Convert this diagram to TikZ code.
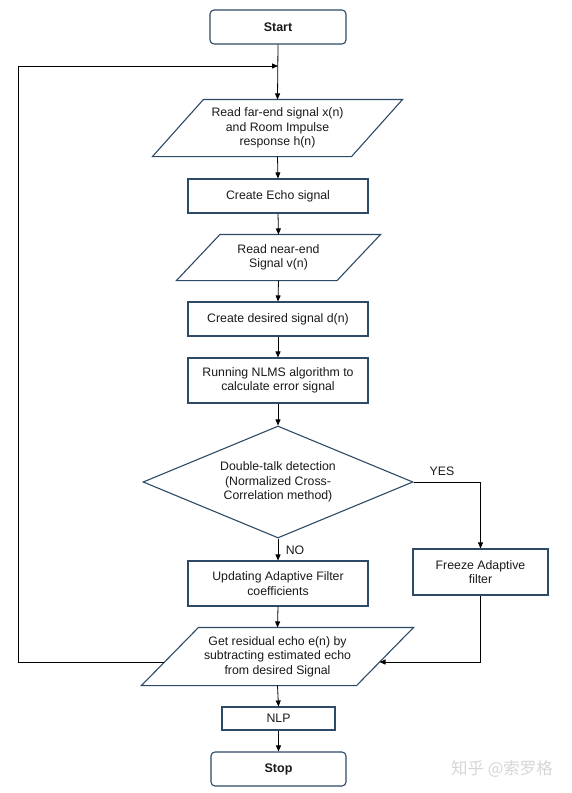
\documentclass[tikz,border=0pt]{standalone}
\usepackage{fontspec}
\setmainfont{Liberation Sans}
\newfontfamily\cjkfont{Noto Sans CJK SC}
\usetikzlibrary{shapes.geometric,arrows.meta,calc}
\definecolor{boxline}{HTML}{2E4A66}
\definecolor{txt}{HTML}{1A1A1A}
\tikzset{
  base/.style={draw=boxline, line width=1.1pt, inner sep=0pt, align=center,
    text=txt, font=\fontsize{12.3}{14.5}\selectfont},
  procbox/.style={base, rectangle},
  termbox/.style={base, rectangle, rounded corners=4pt, font=\fontsize{12.5}{14.5}\selectfont\bfseries},
  iobox/.style={base, rectangle, draw=none,
    append after command={\pgfextra{\draw[draw=boxline, line width=1.1pt]
      ($(\tikzlastnode.north west)+(#1/2,0)$) -- ($(\tikzlastnode.north east)+(#1/2,0)$)
      -- ($(\tikzlastnode.south east)+(-#1/2,0)$) -- ($(\tikzlastnode.south west)+(-#1/2,0)$)
      -- cycle;}}},
  decbox/.style={base, diamond},
  conn/.style={draw=black, line width=0.8pt, -{Triangle[length=6pt,width=5pt]}},
  lbl/.style={text=txt, font=\fontsize{12.3}{14.5}\selectfont, inner sep=0pt}
}
\begin{document}
\begin{tikzpicture}[x=1pt,y=-1pt]
\useasboundingbox[fill=white] (0,0) rectangle (572,793);

\node[termbox, minimum width=136pt, minimum height=34pt] (start) at (278,27) {Start};
\node[iobox=51, minimum width=198pt, minimum height=56pt] (rf) at (277.5,128)
  {Read far-end signal x(n)\\and Room Impulse\\response h(n)};
\node[procbox, minimum width=180pt, minimum height=34pt] (echo) at (278,196) {Create Echo signal};
\node[iobox=43.5, minimum width=159.5pt, minimum height=45pt] (rn) at (278.5,257.5)
  {Read near-end\\Signal v(n)};
\node[procbox, minimum width=180pt, minimum height=34pt] (des) at (278,319) {Create desired signal d(n)};
\node[procbox, minimum width=180pt, minimum height=45pt] (nlms) at (278,380.5)
  {Running NLMS algorithm to\\calculate error signal};
\node[decbox, minimum width=270pt, minimum height=112pt, aspect=2.41] (dt) at (278,482)
  {Double-talk detection\\(Normalized Cross-\\Correlation method)};
\node[procbox, minimum width=180pt, minimum height=45pt] (upd) at (278,583.5)
  {Updating Adaptive Filter\\coefficients};
\node[procbox, minimum width=135pt, minimum height=46pt] (fr) at (480.5,572)
  {Freeze Adaptive\\filter};
\node[iobox=57, minimum width=214pt, minimum height=57pt] (gr) at (277.5,656.5)
  {Get residual echo e(n) by\\subtracting estimated echo\\from desired Signal};
\node[procbox, minimum width=113pt, minimum height=23pt] (nlp) at (278.5,718.5) {NLP};
\node[termbox, minimum width=135pt, minimum height=34pt] (stop) at (278.5,769) {Stop};

\coordinate (join) at (278,66);
\coordinate (lc) at (18,66);

\draw[conn] (start.south) -- (rf.north);
\draw[conn] (rf.south) -- (echo.north);
\draw[conn] (echo.south) -- (rn.north);
\draw[conn] (rn.south) -- (des.north);
\draw[conn] (des.south) -- (nlms.north);
\draw[conn] (nlms.south) -- (dt.north);
\draw[conn] (dt.south) -- (upd.north);
\draw[conn] (dt.east) -| (fr.north);
\draw[conn] (upd.south) -- (gr.north);
\draw[conn] (fr.south) |- ($(gr.east)+(-5.5,5.5)$);
\draw[conn] (gr.south) -- (nlp.north);
\draw[conn] (nlp.south) -- (stop.north);
\draw[conn] ($(gr.west)+(-5.5,5.5)$) -| (lc) -- (join);

\node[lbl] (yes) at (442,471) {YES};
\node[lbl] (no) at (295,550) {NO};

\node[text=black!16, font=\fontsize{16.5}{18}\selectfont\cjkfont, inner sep=0pt] (wm) at (502,769) {知乎 @索罗格};
\end{tikzpicture}
\end{document}
